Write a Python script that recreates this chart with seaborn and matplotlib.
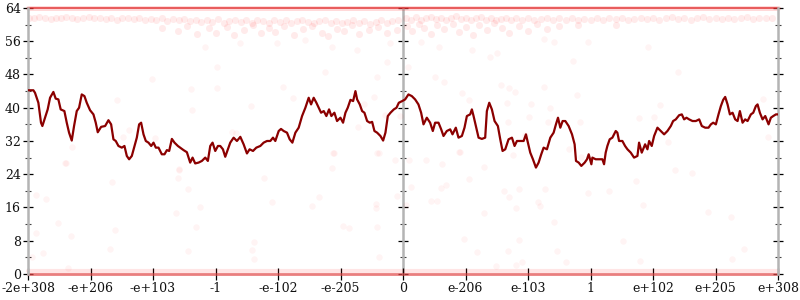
import numpy as np
import pandas as pd
import matplotlib
matplotlib.use("Agg")
import matplotlib.pyplot as plt
import seaborn as sns

# ---------------- data ----------------
tick_pos = [0, 100, 200, 300, 400, 500, 600, 700, 800, 900, 1000, 1100, 1200]
tick_labels = ["-2e+308", "-e+206", "-e+103", "-1", "-e-102", "-e-205", "0",
               "e-206", "e-103", "1", "e+102", "e+205", "e+308"]
y_major = [0, 8, 16, 24, 32, 40, 48, 56, 64]
y_minor = [4, 12, 20, 28, 36, 44, 52, 60]

# moving-average line (x in ordinal units, y in bits)
line_x = [0, 8.6, 11.2, 16.6, 20.8, 23.0, 27.2, 31.5, 35.3, 40.6, 44.3, 48.6, 52.3, 58.2, 62.0,
          65.7, 70.0, 73.7, 78.0, 81.7, 86.0, 90.3, 94.0, 99.3, 104.7, 108.4, 111.6, 117.0, 123.4,
          128.7, 133.0, 136.7, 140.4, 144.7, 150.1, 154.3, 158.1, 161.8, 166.1, 170.4, 174.1,
          177.8, 181.0, 184.8, 188.5, 192.8, 197.1, 200.8, 204.5, 208.8, 214.1, 218.4, 222.2,
          225.9, 230.2, 234.4, 239.8, 243.5, 248.9, 254.2, 259.5, 263.3, 267.5, 272.9, 278.2,
          283.6, 287.8, 291.6, 295.3, 299.6, 303.9,
          307.6, 311.9, 315.6, 319.4, 323.6, 329.0, 334.3, 339.7, 345.0, 350.3, 354.6, 360.0,
          365.3, 371.7, 377.0, 382.4, 387.7, 392.0, 395.7, 401.1, 404.8, 409.1, 414.4, 418.7,
          423.0, 427.8, 433.1, 438.5, 443.8, 449.1, 452.9, 457.1, 461.4, 465.2, 468.9, 473.2,
          477.4, 481.7, 485.4, 490.2, 494.5, 499.9, 504.1, 507.9, 511.6, 515.9, 520.2, 523.9,
          526.6, 530.8, 534.6, 538.3, 542.6, 546.9, 550.6, 554.3, 558.6, 563.9, 568.2, 571.9,
          575.7, 580.0, 585.3, 589.6, 593.3, 598.7,
          603.4, 608.7, 614.1, 619.4, 624.7, 629.0, 632.8, 638.1, 643.4, 647.7, 651.4, 656.8,
          661.1, 664.8, 670.1, 675.5, 679.2, 684.5, 688.8, 694.2, 698.4, 702.2, 707.5, 710.2,
          712.9, 716.6, 720.9, 726.2, 731.5, 734.2, 738.0, 742.2, 746.5, 751.8, 755.6, 759.3,
          763.6, 768.9, 774.3, 778.5, 782.3, 787.6, 793.0, 796.7, 799.9, 803.6, 807.9, 812.7,
          817.0, 821.2, 825.0, 830.3, 835.7, 841.0, 844.7, 848.0, 851.7, 855.4, 859.7, 865.0,
          870.4, 874.6, 876.8, 881.1, 885.3, 890.7, 894.4, 897.1, 901.4,
          903.0, 908.3, 913.7, 919.0, 921.7, 924.3, 927.0, 930.7, 935.0, 940.4, 943.0, 945.7,
          951.0, 955.3, 959.1, 964.4, 969.7, 975.1, 977.7, 982.0, 987.4, 991.1, 993.8, 998.0,
          1001.8, 1007.1, 1012.5, 1017.8, 1023.1, 1028.5, 1032.2, 1036.5, 1041.8, 1046.1,
          1049.8, 1053.6, 1057.8, 1063.2, 1068.5, 1073.9, 1078.1, 1083.5, 1088.8, 1092.6,
          1096.3, 1100.6, 1104.8, 1108.6, 1112.3, 1115.5, 1119.3, 1123.0, 1127.3, 1131.5,
          1135.3, 1139.0, 1143.3, 1147.5, 1151.3, 1156.6, 1160.4, 1164.6, 1167.3, 1171.0,
          1175.3, 1179.6, 1184.9, 1188.6, 1192.4, 1196.7, 1200.0]
line_y = [44.2, 44.2, 43.6, 41.2, 36.4, 35.6, 37.6, 39.6, 42.4, 43.8, 42.2, 42.0, 39.6, 39.2, 36.4,
          34.0, 32.1, 35.6, 39.2, 40.0, 43.2, 42.8, 41.2, 39.4, 38.4, 36.4, 34.1, 35.4, 35.6,
          37.0, 36.0, 32.4, 32.0, 30.8, 30.4, 30.8, 28.4, 27.6, 28.4, 30.8, 32.8,
          36.0, 36.4, 33.6, 32.0, 31.6, 30.8, 31.6, 30.4, 30.4, 28.8, 28.8, 29.8,
          29.6, 32.5, 31.6, 30.8, 30.4, 29.8, 29.3, 26.8, 28.0, 26.6, 26.8, 27.2,
          28.0, 27.2, 30.8, 31.6, 29.6, 30.8,
          30.8, 30.0, 28.2, 29.8, 31.6, 32.8, 32.0, 33.0, 31.2, 29.0, 30.0, 29.6,
          30.4, 30.8, 31.6, 32.0, 32.0, 32.8, 32.0, 34.4, 34.9, 34.4, 34.0, 32.4,
          31.6, 34.0, 35.2, 38.0, 40.0, 42.4, 40.8, 42.4, 41.2, 40.0, 38.8, 39.2,
          38.0, 39.6, 38.0, 38.8, 36.8, 37.6, 36.4, 38.8, 40.0, 41.9, 41.6, 44.0,
          42.0, 40.8, 39.2, 38.8, 36.8, 36.4, 36.6, 34.4, 34.0, 33.2, 32.1, 34.0,
          38.0, 38.8, 39.6, 40.0, 41.2, 41.6,
          42.0, 43.2, 42.8, 42.0, 40.8, 38.8, 36.0, 37.6, 36.4, 34.4, 36.4, 36.4,
          34.8, 33.2, 34.4, 34.8, 33.6, 35.2, 32.8, 33.2, 35.2, 38.0, 38.4, 39.6,
          38.0, 35.6, 32.8, 32.5, 32.8, 39.2, 41.2, 39.6, 36.8, 35.6, 32.4, 29.6,
          30.0, 32.4, 32.8, 30.8, 32.0, 32.0, 32.0, 33.6, 31.6, 29.2, 27.6, 25.6,
          26.8, 28.8, 30.4, 30.0, 32.8, 34.0, 36.0, 37.6, 35.2, 36.8, 36.8, 35.6,
          33.6, 31.2, 27.2, 26.8, 26.0, 26.8, 27.6, 28.8, 26.4,
          28.0, 27.6, 27.6, 27.6, 26.4, 29.2, 30.8, 32.4, 32.8, 34.4, 34.0, 32.0,
          32.0, 30.8, 30.0, 29.2, 28.0, 28.4, 31.6, 29.2, 31.2, 30.0, 32.0, 30.8,
          33.2, 35.2, 34.4, 33.6, 34.4, 35.6, 36.8, 37.2, 38.2, 38.4,
          37.2, 37.6, 37.2, 36.8, 36.8, 37.2, 35.6, 35.2, 35.2, 36.0,
          36.4, 36.0, 38.4, 40.4, 41.9, 42.6, 40.8, 38.4, 38.8, 37.2,
          36.8, 39.2, 36.4, 37.2, 36.8, 38.4, 38.8, 40.4, 40.8, 38.8,
          37.2, 38.0, 36.0, 37.6, 38.0, 38.4, 38.4]

# dense bands of samples (levels where most samples sit)
band_x = [0, 1200]
band_top = [64, 64]
band_bottom = [0, 0]
band_bottom_fringe = [0.8, 0.8]

# near-max samples (≈ 57-62 bits)
high_x = [2, 10, 18, 27, 36, 44, 52, 61, 70, 79, 88, 97, 106, 115, 124, 133, 142, 151, 160, 169,
          178, 187, 196, 205, 214, 223, 232, 241, 250, 259, 268, 277, 286, 295, 304, 313, 322,
          331, 340, 349, 358, 367, 376, 385, 394, 403, 412, 421, 430, 439, 448, 457, 466, 475,
          484, 493, 502, 511, 520, 529, 538, 547, 556, 565, 574, 583, 592,
          215, 240, 255, 270, 290, 300, 318, 330, 345, 360, 372, 385, 395, 410, 425, 440, 455,
          470, 480, 495, 505, 518, 530, 545, 560, 575, 590,
          604, 612, 620, 628, 636, 644, 652, 660, 668, 676, 684, 692, 700, 708, 716, 724, 732,
          740, 748, 756, 764, 772, 780, 790, 800, 810, 820, 830, 840, 850, 860, 870, 880, 890,
          900, 910, 920, 930, 940, 950, 960, 970, 980, 990, 1000, 1010, 1020, 1030, 1040, 1050,
          1060, 1070, 1080, 1090, 1100, 1110, 1120, 1130, 1140, 1150, 1160, 1170, 1180, 1190,
          606, 615, 625, 634, 645, 655, 665, 680, 690, 700, 712, 722, 735, 745, 758, 770, 785,
          800, 815, 830, 850, 880, 940]
high_y = [61.7, 61.5, 61.8, 61.6, 61.4, 61.7, 61.5, 61.8, 61.6, 61.3, 61.6, 61.8, 61.5, 61.7,
          61.4, 61.6, 61.2, 61.5, 61.7, 61.3, 61.6, 61.0, 61.4, 61.2, 61.5, 60.9, 61.3, 61.0,
          61.4, 60.8, 61.2, 60.6, 61.0, 60.7, 61.3, 60.5, 60.9, 61.2, 60.6, 61.0, 60.4, 61.1,
          60.8, 60.5, 61.0, 60.7, 61.2, 60.4, 60.9, 61.1, 60.6, 60.3, 60.8, 61.2, 60.5, 60.9,
          60.3, 60.7, 61.1, 60.4, 60.9, 60.2, 60.7, 61.0, 60.5, 60.8, 61.1,
          59.3, 58.4, 59.6, 57.8, 59.1, 58.0, 59.5, 57.5, 58.8, 59.9, 57.9, 59.2, 58.3, 59.6,
          57.4, 58.9, 59.7, 58.1, 57.2, 59.0, 58.4, 59.8, 57.7, 58.6, 59.4, 57.9, 58.8,
          61.6, 61.2, 61.8, 61.0, 61.5, 61.9, 61.3, 61.7, 61.1, 61.6, 62.0, 61.3, 61.7, 61.0,
          61.5, 61.8, 61.2, 61.6, 61.0, 61.4, 61.7, 61.1, 61.5, 61.2, 61.6, 61.0, 61.4, 61.7,
          61.1, 61.5, 61.2, 61.6, 61.0, 61.4, 61.1, 61.5, 61.2, 61.6, 61.3, 61.5, 61.1, 61.4,
          61.7, 61.3, 61.6, 61.2, 61.5, 61.8, 61.3, 61.6, 61.2, 61.5, 61.8, 61.3, 61.6, 61.4,
          61.7, 61.3, 61.6, 61.8, 61.4, 61.7, 61.5, 61.6,
          59.6, 58.4, 60.2, 59.1, 57.8, 59.8, 58.9, 60.1, 58.2, 59.4, 57.6, 59.9, 58.7, 60.3,
          59.2, 57.9, 59.6, 58.5, 60.1, 59.0, 59.7, 60.0, 59.8]

# sparse samples elsewhere
sparse_x = [283.6, 302.8, 198.6, 261.1, 302.8, 408.5, 142.6, 424.5, 475.8, 559.1, 575.1, 527.1,
            339.6, 398.9, 443.8, 487.0, 579.9, 262.7, 528.7, 152.2,
            628.0, 656.8, 709.7, 738.5, 749.7, 871.5, 991.6, 607.2, 650.4, 664.8, 693.7, 756.1,
            825.0, 877.9, 834.6, 801.0, 765.8, 704.9, 1039.7, 977.2, 1183.9, 895.5, 825.0, 841.1,
            59.3, 134.6, 241.9, 240.3, 256.3, 12.8, 28.8, 48.1, 139.4, 12.8, 68.9, 237.1, 275.5,
            269.1, 256.3, 131.4, 24.0, 6.4, 64.1, 362.1, 358.8, 362.1, 390.9, 378.1, 455.0,
            466.2, 487.0, 488.6, 504.6, 514.2, 559.1, 559.1, 562.3, 557.5, 557.5, 591.1,
            636.0, 661.6, 688.9, 728.9, 704.9, 612.0, 660.0, 668.0, 644.0, 653.6, 604.0, 761.0,
            769.0, 785.0, 780.2, 815.4, 818.6, 826.6, 728.9, 841.1, 696.9, 785.0, 717.7, 767.4,
            780.2, 789.8, 845.9, 860.3, 895.5, 929.2, 951.6, 972.4, 983.6, 978.8, 1034.9,
            1062.1, 1087.8, 1124.6, 1145.4, 1126.2, 884.3, 775.4, 748.1,
            161.8, 203.5, 70.0, 60.4, 240.8, 356.8, 326.3, 333.2, 490.2, 554.3, 537.2, 561.2,
            571.9, 587.9, 594.8, 768.9, 779.7, 805.3, 831.9, 767.8, 795.7, 883.8, 865.1, 691.6,
            608.8, 1010.9, 1001.7, 1023.2, 1175.4]
sparse_y = [54.6, 49.8, 46.9, 44.5, 44.7, 45.0, 41.9, 42.3, 48.6, 47.4, 51.0, 53.9,
            55.6, 55.6, 56.3, 54.6, 55.6, 39.5, 35.4, 33.0,
            55.8, 54.6, 53.9, 52.2, 53.2, 51.2, 54.6, 49.8, 47.4, 46.2, 43.5, 45.5,
            45.0, 43.1, 39.9, 37.8, 41.1, 41.9, 48.6, 37.5, 33.0, 55.8, 56.5, 55.8,
            26.7, 22.1, 25.0, 23.1, 20.5, 19.0, 18.0, 12.3, 10.6, 9.9, 9.1, 14.7, 16.1,
            11.3, 5.5, 6.0, 5.0, 4.1, 1.4, 7.7, 5.8, 3.6, 17.3, 23.1, 16.4,
            18.5, 25.5, 29.1, 11.5, 11.1, 29.1, 11.3, 4.1, 16.8, 15.9, 18.8,
            27.4, 26.5, 29.4, 25.7, 22.9, 20.9, 20.7, 21.4, 17.6, 17.6, 16.6, 20.0,
            18.5, 20.5, 15.9, 17.3, 16.4, 20.5, 14.7, 12.5, 8.4, 8.2, 5.3, 5.5,
            2.2, 2.9, 5.5, 2.9, 19.5, 20.0, 7.9, 22.4, 16.6, 3.1, 25.0,
            24.3, 14.9, 13.7, 6.0, 3.6, 28.2, 28.6, 1.9,
            34.6, 32.6, 30.6, 26.8, 25.2, 40.3, 34.2, 34.0, 29.2, 42.7, 40.9, 29.0,
            38.3, 27.4, 37.9, 44.7, 43.9, 40.8, 36.6, 36.6, 33.4, 36.6, 30.0, 29.4,
            27.4, 40.7, 37.7, 31.8, 42.0]

# ---------------- style ----------------
sns.set_theme(style="white")
plt.rcParams["font.family"] = ["DejaVu Serif"]
plt.rcParams["axes.facecolor"] = "white"

AXIS_GRAY = "#b4b4b4"
RED = "#ff0000"
DARK = "#8b0000"

fig = plt.figure(figsize=(8, 3), dpi=100)
ax = fig.add_axes([0.035, 0.0867, 0.9375, 0.8867])

high = pd.DataFrame({"x": high_x, "y": high_y})
sparse = pd.DataFrame({"x": sparse_x, "y": sparse_y})
sns.scatterplot(data=high, x="x", y="y", ax=ax, color=RED, alpha=0.08, s=26,
                linewidth=0, legend=False, zorder=1)
sns.scatterplot(data=sparse, x="x", y="y", ax=ax, color=RED, alpha=0.045, s=22,
                linewidth=0, legend=False, zorder=1)

# dense sample bands
sns.lineplot(x=band_x, y=band_top, ax=ax, color=RED, alpha=0.15, linewidth=3.6,
             clip_on=False, zorder=2)
sns.lineplot(x=band_x, y=band_top, ax=ax, color="#e03030", alpha=0.75, linewidth=1.4,
             clip_on=False, zorder=2)
sns.lineplot(x=band_x, y=band_bottom_fringe, ax=ax, color=RED, alpha=0.1, linewidth=3.0,
             clip_on=False, zorder=2)
sns.lineplot(x=band_x, y=band_bottom, ax=ax, color="#e04848", alpha=0.7, linewidth=2.0,
             clip_on=False, zorder=2)

# moving average
sns.lineplot(x=line_x, y=line_y, ax=ax, color=DARK, linewidth=1.6, sort=False,
             estimator=None, zorder=4)

ax.set_xlim(tick_pos[0], tick_pos[-1])
ax.set_ylim(0, 64)
ax.set_xlabel("")
ax.set_ylabel("")
ax.set_xticks(tick_pos, labels=tick_labels)
ax.set_yticks(y_major, labels=[str(v) for v in y_major])
ax.set_yticks(y_minor, minor=True)

for side in ("top", "bottom"):
    ax.spines[side].set_visible(False)
for side in ("left", "right"):
    ax.spines[side].set_visible(True)
    ax.spines[side].set_color(AXIS_GRAY)
    ax.spines[side].set_linewidth(1.8)

ax.tick_params(axis="y", which="major", direction="inout", length=7.5, width=0.9,
               color="black", left=True, right=True, labelright=False,
               labelsize=9, pad=1.5, labelcolor="#111111")
ax.tick_params(axis="y", which="minor", direction="inout", length=4, width=0.8,
               color="#444444", left=True, right=True)
ax.tick_params(axis="x", which="major", direction="inout", length=8, width=0.9,
               color="black", bottom=True, top=False, labelsize=9, pad=2,
               labelcolor="#111111")

# middle y-axis at x = 0
mid = ax.secondary_yaxis(0.5)
mid.set_yticks(y_major, labels=[""] * len(y_major))
mid.set_yticks(y_minor, minor=True)
mid.spines["right"].set_color(AXIS_GRAY)
mid.spines["right"].set_linewidth(1.8)
mid.tick_params(axis="y", which="major", direction="inout", length=7.5, width=0.9,
                color="black", labelright=False)
mid.tick_params(axis="y", which="minor", direction="inout", length=4, width=0.8,
                color="#444444")

fig.savefig("out.png", dpi=100)
